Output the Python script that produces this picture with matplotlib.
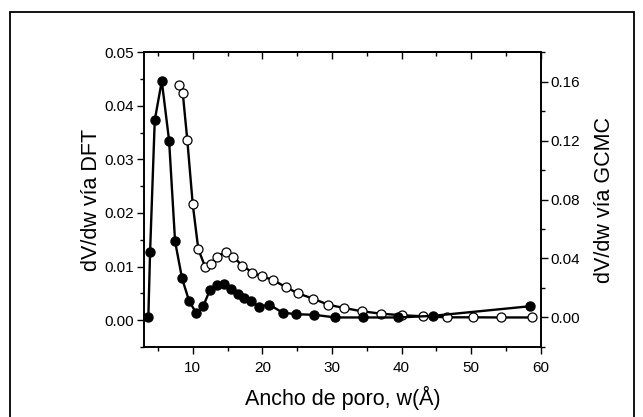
import matplotlib
matplotlib.use("Agg")
import matplotlib.pyplot as plt
from matplotlib.patches import Rectangle
from matplotlib.ticker import MultipleLocator

plt.rcParams['font.family'] = ['Liberation Sans', 'DejaVu Sans']

# DFT series (left axis, filled circles)
dft_w = [3.62, 3.87, 4.54, 5.55, 6.6, 7.46, 8.46, 9.47, 10.5, 11.5, 12.49, 13.49, 14.5,
         15.5, 16.45, 17.4, 18.4, 19.5, 21.0, 22.9, 24.9, 27.4, 30.5, 34.4, 39.5, 44.5, 58.5]
dft_v = [0.0006, 0.0127, 0.0373, 0.0446, 0.0335, 0.0147, 0.0078, 0.0036, 0.0013, 0.0026,
         0.0057, 0.0066, 0.0068, 0.0059, 0.0048, 0.0041, 0.0035, 0.0025, 0.0029, 0.0014,
         0.0011, 0.0010, 0.0005, 0.0005, 0.0005, 0.0008, 0.0026]

# GCMC series (right axis, open circles)
gcmc_w = [8.03, 8.56, 9.22, 10.0, 10.8, 11.77, 12.63, 13.53, 14.78, 15.83, 17.13, 18.56,
          20.0, 21.5, 23.36, 25.13, 27.33, 29.48, 31.78, 34.3, 37.0, 40.0, 43.1, 46.6,
          50.3, 54.3, 58.7]
gcmc_v = [0.1574, 0.1525, 0.1202, 0.0767, 0.0462, 0.0345, 0.0361, 0.0413, 0.0446, 0.0410,
          0.0352, 0.0305, 0.0278, 0.0255, 0.0206, 0.0163, 0.0127, 0.0086, 0.0064, 0.0042,
          0.0026, 0.0015, 0.0008, 0.0001, 0.0001, 0.0000, 0.0000]

xlabel = "Ancho de poro, w(Å)"
ylabel_left = "dV/dw vía DFT"
ylabel_right = "dV/dw vía GCMC"

fig = plt.figure(figsize=(6.43, 4.17), dpi=100)
ax = fig.add_axes([0.224, 0.168, 0.617, 0.707])
ax2 = ax.twinx()

ax2.plot(gcmc_w, gcmc_v, '-o', color='black', lw=1.7, ms=6.5,
         mfc='white', mec='black', mew=0.9)
ax.plot(dft_w, dft_v, '-o', color='black', lw=1.7, ms=6.5,
        mfc='black', mec='black')
ax.set_zorder(ax2.get_zorder() + 1)
ax.patch.set_visible(False)

ax.set_xlim(3, 60)
ax.set_ylim(-0.005, 0.05)
ax2.set_ylim(-0.02, 0.18)

ax.xaxis.set_major_locator(MultipleLocator(10))
ax.xaxis.set_minor_locator(MultipleLocator(5))
ax.yaxis.set_major_locator(MultipleLocator(0.01))
ax.yaxis.set_minor_locator(MultipleLocator(0.005))
ax2.yaxis.set_major_locator(MultipleLocator(0.04))
ax2.yaxis.set_minor_locator(MultipleLocator(0.02))
ax.yaxis.set_major_formatter(lambda v, p: f"{v:.2f}")
ax2.yaxis.set_major_formatter(lambda v, p: f"{v:.2f}")

ax.tick_params(axis='x', which='both', direction='out', top=False, labelsize=11, pad=5)
ax.tick_params(axis='y', which='both', direction='out', labelsize=11, pad=2)
ax2.tick_params(axis='y', which='both', direction='out', labelsize=11, pad=2)
ax.tick_params(which='major', length=5, width=1)
ax.tick_params(which='minor', length=3, width=1)
ax2.tick_params(which='major', length=5, width=1)
ax2.tick_params(which='minor', length=3, width=1)

secx = ax.secondary_xaxis('top')
secx.xaxis.set_major_locator(MultipleLocator(10))
secx.xaxis.set_minor_locator(MultipleLocator(5))
secx.tick_params(which='both', direction='in', labeltop=False)
secx.tick_params(which='major', length=5, width=1)
secx.tick_params(which='minor', length=3, width=1)

for a in (ax, ax2):
    for s in a.spines.values():
        s.set_linewidth(1.2)
secx.spines['top'].set_linewidth(1.2)

ax.set_xlabel(xlabel, fontsize=15.5, labelpad=8)
ax.set_ylabel(ylabel_left, fontsize=15.5, labelpad=2)
ax2.set_ylabel(ylabel_right, fontsize=15.5, labelpad=10)

fig.patches.append(Rectangle((10 / 643, -0.2), 624 / 643, 1.2 - 12 / 417,
                             transform=fig.transFigure, fill=False,
                             edgecolor='black', lw=1.3))

fig.savefig("out.png", dpi=100)
